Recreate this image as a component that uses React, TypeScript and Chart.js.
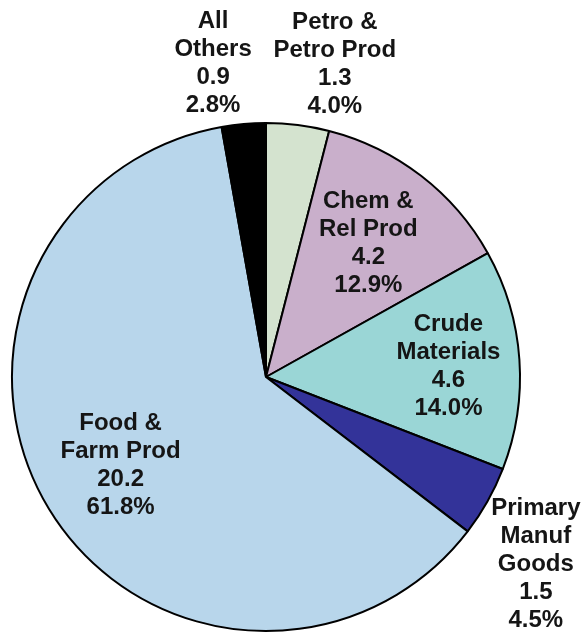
import React, { useEffect, useRef } from "react";
import { Chart, registerables } from "chart.js";

Chart.register(...registerables);

// ---- data ----
const categories: string[][] = [
  ["Petro &", "Petro Prod"],
  ["Chem &", "Rel Prod"],
  ["Crude", "Materials"],
  ["Primary", "Manuf", "Goods"],
  ["Food &", "Farm Prod"],
  ["All", "Others"],
];
const values: number[] = [1.3, 4.2, 4.6, 1.5, 20.2, 0.9];
const shares: number[] = [4.0, 12.9, 14.0, 4.5, 61.8, 2.8];
const colors: string[] = ["#D4E3CF", "#C9AFCB", "#9AD6D6", "#333399", "#B8D6EB", "#000000"];

// label placement: radial fraction of radius, extra offsets
const labelFrac: number[] = [1.25, 0.66, 0.72, 1.3, 0.67, 1.25];
const labelDx: number[] = [29, 0, 0, -18, 0, -25];
const labelDy: number[] = [2, -1, 2, 26, 0, 3];

const LINE_H = 28;
const FONT = "bold 24px 'Liberation Sans', Arial, sans-serif";

const labelPlugin = {
  id: "sliceLabels",
  afterDatasetsDraw(chart: any) {
    const ctx = chart.ctx;
    const meta = chart.getDatasetMeta(0);
    ctx.save();
    ctx.font = FONT;
    ctx.fillStyle = "#151515";
    ctx.textAlign = "center";
    ctx.textBaseline = "middle";
    meta.data.forEach((arc: any, i: number) => {
      const p = arc.getProps(["x", "y", "startAngle", "endAngle", "outerRadius"], true);
      const mid = (p.startAngle + p.endAngle) / 2;
      const d = p.outerRadius * labelFrac[i];
      const cx = p.x + Math.cos(mid) * d + labelDx[i];
      const cy = p.y + Math.sin(mid) * d + labelDy[i];
      const lines = [...categories[i], values[i].toFixed(1), shares[i].toFixed(1) + "%"];
      const top = cy - ((lines.length - 1) * LINE_H) / 2;
      lines.forEach((t, k) => ctx.fillText(t, cx, top + k * LINE_H));
    });
    ctx.restore();
  },
};

export default function App() {
  const ref = useRef<HTMLCanvasElement | null>(null);
  useEffect(() => {
    if (!ref.current) return;
    const chart = new Chart(ref.current, {
      type: "pie",
      data: {
        labels: categories.map((c) => c.join(" ")),
        datasets: [
          {
            data: shares,
            backgroundColor: colors,
            borderColor: "#000000",
            borderWidth: 2,
          },
        ],
      },
      options: {
        responsive: false,
        animation: false,
        devicePixelRatio: 1,
        radius: 254,
        layout: { padding: { left: 12, top: 123, right: 67, bottom: 3 } },
        plugins: {
          legend: { display: false },
          tooltip: { enabled: false },
        },
      } as any,
      plugins: [labelPlugin],
    });
    return () => chart.destroy();
  }, []);
  return (
    <div style={{ position: "absolute", left: 0, top: 0, width: 587, height: 634, background: "#fff" }}>
      <canvas ref={ref} width={587} height={634} />
    </div>
  );
}
